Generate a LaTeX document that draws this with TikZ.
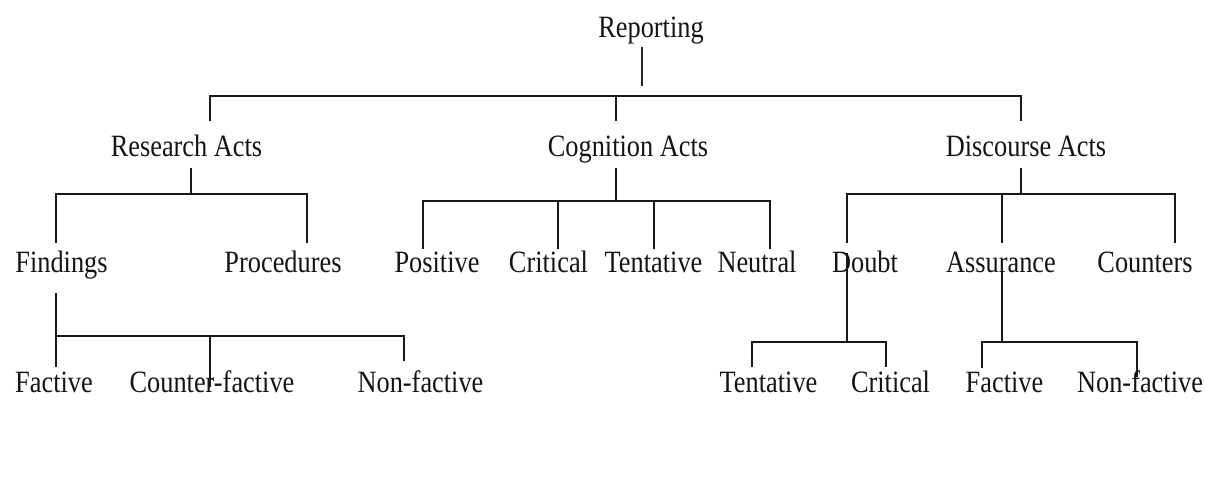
\documentclass[tikz,border=0pt]{standalone}
\usepackage{fontspec}
\setmainfont{Liberation Serif}
\newcommand\hsq[1]{\scalebox{0.85}[1]{#1}}
\begin{document}
\begin{tikzpicture}[x=1pt,y=-1pt,
  lbl/.style={inner sep=0pt, anchor=base, text=black!92, font=\fontsize{31}{36}\selectfont},
  ln/.style={line width=2pt, line join=miter, black!90},
  thinln/.style={line width=1.2pt, black!85}]
\useasboundingbox (0,0) rectangle (1206,484);
% nodes
\node[lbl] (rep) at (651,38) {\hsq{Reporting}};
\node[lbl] (res) at (186.5,156) {\hsq{Research Acts}};
\node[lbl] (cog) at (628,156) {\hsq{Cognition Acts}};
\node[lbl] (dis) at (1026,156) {\hsq{Discourse Acts}};
\node[lbl] (fin) at (61.5,272) {\hsq{Findings}};
\node[lbl] (pro) at (283,272) {\hsq{Procedures}};
\node[lbl] (pos) at (437,272) {\hsq{Positive}};
\node[lbl] (cri) at (548.5,272) {\hsq{Critical}};
\node[lbl] (ten) at (653.5,272) {\hsq{Tentative}};
\node[lbl] (neu) at (757,272) {\hsq{Neutral}};
\node[lbl] (dou) at (865,272) {\hsq{Doubt}};
\node[lbl] (ass) at (1001,272) {\hsq{Assurance}};
\node[lbl] (cou) at (1145,272) {\hsq{Counters}};
\node[lbl] (fac) at (54,392) {\hsq{Factive}};
\node[lbl] (cfa) at (212,392) {\hsq{Counter-factive}};
\node[lbl] (nfa) at (420.5,392) {\hsq{Non-factive}};
\node[lbl] (dte) at (768.5,392) {\hsq{Tentative}};
\node[lbl] (dcr) at (890.5,392) {\hsq{Critical}};
\node[lbl] (afa) at (1004.5,392) {\hsq{Factive}};
\node[lbl] (anf) at (1140,392) {\hsq{Non-factive}};
% junction coordinates
\coordinate (rep-a) at (642,47);
\coordinate (rep-b) at (642,86);
\coordinate (res-t) at (210,121);
\coordinate (cog-t) at (616,121);
\coordinate (dis-t) at (1021,121);
\coordinate (res-a) at (191,168);
\coordinate (fin-t) at (56,243);
\coordinate (pro-t) at (307,243);
\coordinate (cog-a) at (616,168);
\coordinate (pos-t) at (423,249);
\coordinate (cri-t) at (558,249);
\coordinate (ten-t) at (654,249);
\coordinate (neu-t) at (770,249);
\coordinate (dis-a) at (1021,168);
\coordinate (dou-t) at (847,243);
\coordinate (ass-t) at (1002,243);
\coordinate (cou-t) at (1175,243);
\coordinate (fin-a) at (56,293);
\coordinate (fac-t) at (56,367);
\coordinate (cfa-t) at (210,387);
\coordinate (nfa-t) at (404,361);
\coordinate (dou-a) at (847,253);
\coordinate (dte-t) at (752,367);
\coordinate (dcr-t) at (886,367);
\coordinate (ass-a) at (1002,268);
\coordinate (afa-t) at (982,368);
\coordinate (anf-t) at (1137,377);
% Reporting
\draw[thinln] (rep-a) -- (rep-b);
\draw[ln] (res-t) -- (210,96) -- (1021,96) -- (dis-t);
\draw[ln] (cog-t) -- (616,96);
% Research Acts
\draw[ln] (res-a) -- (191,194);
\draw[ln] (fin-t) -- (56,194) -- (307,194) -- (pro-t);
% Cognition Acts
\draw[ln] (cog-a) -- (616,201);
\draw[ln] (pos-t) -- (423,201) -- (770,201) -- (neu-t);
\draw[ln] (cri-t) -- (558,201);
\draw[ln] (ten-t) -- (654,201);
% Discourse Acts
\draw[ln] (dis-a) -- (1021,194);
\draw[ln] (dou-t) -- (847,194) -- (1175,194) -- (cou-t);
\draw[ln] (ass-t) -- (1002,194);
% Findings
\draw[ln] (fin-a) -- (fac-t);
\draw[ln] (56,336) -- (404,336) -- (nfa-t);
\draw[ln] (cfa-t) -- (210,336);
% Doubt
\draw[ln] (dou-a) -- (847,342);
\draw[ln] (dte-t) -- (752,342) -- (886,342) -- (dcr-t);
% Assurance
\draw[ln] (ass-a) -- (1002,342);
\draw[ln] (afa-t) -- (982,342) -- (1137,342) -- (anf-t);
\end{tikzpicture}
\end{document}
